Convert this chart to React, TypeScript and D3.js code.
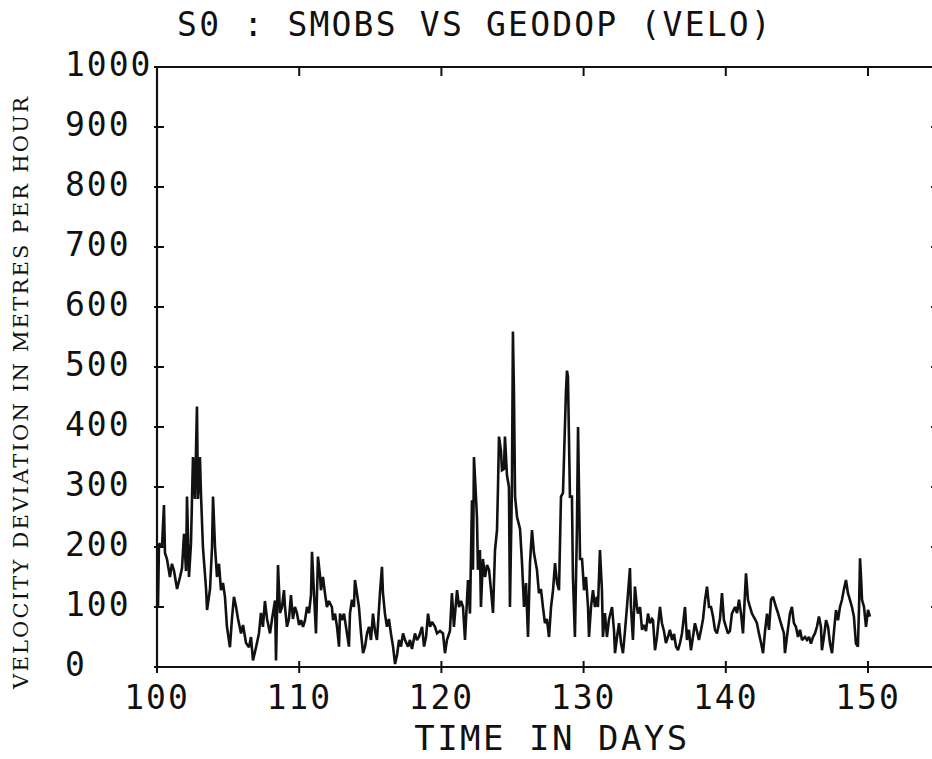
import React from "react";
import * as d3 from "d3";

// Sample times (days) and velocity deviation (metres per hour)
const days: number[] = [
  100.07,100.14,100.35,100.49,100.56,100.70,100.91,101.05,101.20,101.41,101.62,101.76,101.90,102.04,102.11,102.25,102.39,102.53,102.67,102.81,
  102.88,103.02,103.09,103.23,103.45,103.52,103.73,103.87,103.94,104.08,104.22,104.36,104.50,104.64,104.78,104.92,105.13,105.27,105.41,105.56,
  105.70,105.91,106.05,106.26,106.47,106.61,106.75,106.89,107.03,107.17,107.31,107.45,107.59,107.74,107.95,108.09,108.30,108.37,108.51,108.65,
  108.79,108.93,109.00,109.14,109.28,109.42,109.56,109.70,109.84,109.99,110.13,110.27,110.41,110.55,110.69,110.83,110.90,111.04,111.18,
  111.32,111.46,111.53,111.67,111.81,111.95,112.09,112.30,112.38,112.52,112.66,112.80,112.87,113.01,113.15,113.36,113.50,113.57,113.71,113.85,
  113.92,114.06,114.20,114.35,114.49,114.63,114.77,114.91,115.05,115.19,115.33,115.47,115.68,115.82,115.89,116.03,116.17,116.31,116.45,116.60,
  116.74,116.88,117.02,117.16,117.30,117.44,117.65,117.79,117.93,118.14,118.28,118.42,118.64,118.78,118.92,119.06,119.20,119.34,119.55,119.69,
  119.90,120.11,120.25,120.39,120.60,120.74,120.88,121.10,121.24,121.38,121.52,121.66,121.87,122.01,122.15,122.22,122.29,122.43,122.50,122.57,
  122.71,122.78,122.92,123.07,123.21,123.35,123.49,123.63,123.77,123.91,123.98,124.05,124.19,124.26,124.40,124.47,124.61,124.75,124.82,124.96,
  125.03,125.10,125.18,125.32,125.53,125.67,125.81,125.95,126.09,126.23,126.37,126.51,126.72,126.86,127.00,127.14,127.28,127.42,127.57,127.71,
  127.85,127.99,128.13,128.27,128.41,128.55,128.76,128.83,128.90,129.04,129.18,129.25,129.39,129.53,129.61,129.75,129.89,130.03,130.17,130.31,
  130.38,130.52,130.66,130.80,130.94,131.01,131.15,131.29,131.36,131.50,131.64,131.79,132.00,132.14,132.21,132.35,132.49,132.63,132.77,132.91,
  133.05,133.26,133.33,133.47,133.61,133.75,133.82,133.97,134.11,134.25,134.39,134.53,134.67,134.81,134.88,135.02,135.16,135.37,135.51,135.65,
  135.79,135.93,136.07,136.22,136.36,136.50,136.64,136.78,136.92,137.13,137.27,137.41,137.55,137.69,137.83,137.97,138.11,138.26,138.40,138.54,
  138.68,138.82,138.96,139.10,139.24,139.38,139.59,139.73,139.87,140.01,140.15,140.29,140.43,140.65,140.79,140.93,141.07,141.21,141.42,141.56,
  141.70,141.84,142.05,142.19,142.33,142.48,142.62,142.76,142.90,143.04,143.18,143.32,143.53,143.67,143.81,143.95,144.09,144.16,144.30,144.51,
  144.65,144.79,144.93,145.08,145.22,145.36,145.57,145.71,145.85,145.99,146.13,146.27,146.41,146.55,146.69,146.76,146.90,147.05,147.19,147.33,
  147.47,147.61,147.75,147.89,148.03,148.17,148.31,148.45,148.59,148.73,148.87,149.01,149.15,149.29,149.37,149.44,149.51,149.58,149.72,149.86,
  150.00,150.14,
];

const velocity: number[] = [
  100,206,200,270,190,180,150,172,160,130,150,165,222,160,284,150,206,350,280,434,
  280,350,290,200,130,95,130,200,284,200,150,172,128,140,117,67,33,80,117,100,
  80,56,70,40,33,50,11,25,40,56,90,67,110,80,56,80,111,11,170,90,
  100,128,100,67,80,120,80,100,90,70,78,67,78,100,90,120,192,123,56,
  184,153,128,150,123,100,110,100,78,89,67,34,89,78,89,56,34,89,112,100,
  145,123,100,56,23,34,56,67,45,89,60,45,123,167,123,89,67,80,56,34,
  5,20,45,34,56,45,34,45,30,56,45,50,67,34,50,89,67,75,67,56,
  60,56,23,45,60,123,67,128,100,110,100,45,145,89,278,162,350,284,250,162,
  195,100,180,150,170,162,128,90,195,228,300,384,360,328,330,384,320,300,100,300,
  559,462,284,250,230,173,100,140,50,173,228,190,162,123,130,100,73,80,50,100,
  128,173,140,128,284,290,460,494,484,284,284,150,50,230,400,180,180,128,150,100,
  50,100,128,100,117,100,195,128,50,90,50,80,100,60,23,50,73,40,23,60,
  100,165,100,45,134,100,89,100,62,70,60,89,73,80,78,28,50,100,73,60,
  40,50,62,45,55,34,28,40,56,100,45,62,28,50,73,60,45,62,80,112,
  134,100,100,84,62,56,80,123,78,67,56,60,89,100,90,112,89,56,156,112,
  100,89,80,73,56,40,23,60,89,62,112,117,100,90,78,67,56,23,50,89,
  100,73,67,50,62,45,50,45,50,39,50,56,67,84,67,28,50,78,67,39,
  23,60,95,78,100,112,130,145,123,112,100,84,39,34,100,181,150,112,100,67,
  95,84,
];

const xTicks: number[] = [100, 110, 120, 130, 140, 150];
const yTicks: number[] = [0, 100, 200, 300, 400, 500, 600, 700, 800, 900, 1000];

const title = "S0 : SMOBS VS GEODOP (VELO)";
const xTitle = "TIME IN DAYS";
const yTitle = "VELOCITY DEVIATION IN METRES PER HOUR";

const W = 932;
const H = 759;
const plotFont = "'DejaVu Sans Mono', monospace";
const serifFont = "'DejaVu Serif', 'Liberation Serif', serif";

export default function App() {
  const x = d3.scaleLinear().domain([100, 155]).range([157, 157 + 55 * 14.22]);
  const y = d3.scaleLinear().domain([0, 1000]).range([667, 67]);

  const points: [number, number][] = days.map((d, i) => [d, velocity[i]]);
  const line = d3
    .line<[number, number]>()
    .x((d) => x(d[0]))
    .y((d) => y(d[1]));

  const x0 = x(100);
  const x1 = x(155);
  const yTop = y(1000);
  const yBot = y(0);

  return (
    <svg
      width={W}
      height={H}
      viewBox={`0 0 ${W} ${H}`}
      style={{ position: "absolute", left: 0, top: 0, background: "#fff" }}
    >
      <rect x={0} y={0} width={W} height={H} fill="#fff" />
      {/* title */}
      <text
        x={475}
        y={24}
        textAnchor="middle"
        dominantBaseline="central"
        fontFamily={plotFont}
        fontSize={33}
        letterSpacing={2.2}
        fill="#111"
      >
        {title}
      </text>

      {/* frame */}
      <g stroke="#111" strokeWidth={2.2} fill="none">
        <line x1={x0} y1={yTop} x2={x1} y2={yTop} />
        <line x1={x0} y1={yBot} x2={x1} y2={yBot} />
        <line x1={x0} y1={yTop} x2={x0} y2={yBot} />
        <line x1={x1} y1={yTop} x2={x1} y2={yBot} />
      </g>

      {/* ticks */}
      <g stroke="#111" strokeWidth={2}>
        {xTicks.map((t) => (
          <g key={"xt" + t}>
            <line x1={x(t)} x2={x(t)} y1={yBot - 6} y2={yBot + 6} />
            <line x1={x(t)} x2={x(t)} y1={yTop} y2={yTop + 9} />
          </g>
        ))}
        {yTicks.map((t) => (
          <g key={"yt" + t}>
            <line x1={x0 - 3} x2={x0 + 7} y1={y(t)} y2={y(t)} />
            <line x1={x1 - 8} x2={x1} y1={y(t)} y2={y(t)} />
          </g>
        ))}
      </g>

      {/* x tick labels */}
      {xTicks.map((t) => (
        <text
          key={"xl" + t}
          x={x(t)}
          y={697}
          textAnchor="middle"
          dominantBaseline="central"
          fontFamily={plotFont}
          fontSize={33}
          letterSpacing={2}
          fill="#111"
        >
          {String(t)}
        </text>
      ))}

      {/* y tick labels */}
      {yTicks.map((t) => (
        <text
          key={"yl" + t}
          x={65}
          y={y(t) - 3}
          textAnchor="start"
          dominantBaseline="central"
          fontFamily={plotFont}
          fontSize={33}
          letterSpacing={2}
          fill="#111"
        >
          {String(t)}
        </text>
      ))}

      {/* axis titles */}
      <text
        x={552}
        y={738}
        textAnchor="middle"
        dominantBaseline="central"
        fontFamily={plotFont}
        fontSize={34}
        letterSpacing={2.5}
        fill="#111"
      >
        {xTitle}
      </text>
      <text
        transform={`translate(21, 393) rotate(-90)`}
        textAnchor="middle"
        dominantBaseline="central"
        fontFamily={serifFont}
        fontSize={21}
        textLength={592}
        lengthAdjust="spacing"
        fill="#111"
      >
        {yTitle}
      </text>

      {/* data line */}
      <path
        d={line(points) || ""}
        fill="none"
        stroke="#111"
        strokeWidth={2.6}
        strokeLinejoin="miter"
        strokeMiterlimit={2}
      />
    </svg>
  );
}
